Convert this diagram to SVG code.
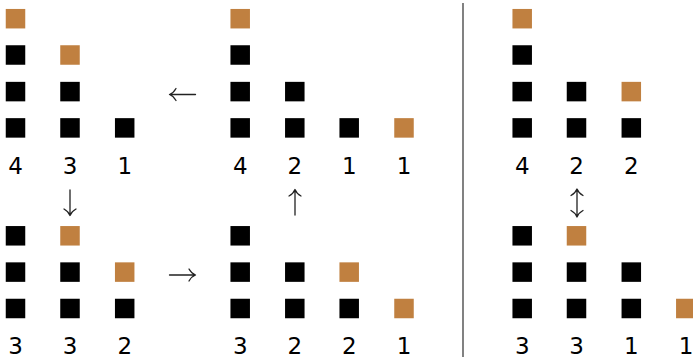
<svg xmlns="http://www.w3.org/2000/svg" width="693" height="357" viewBox="0 0 693 357">
<style>
.b{fill:#000}
.o{fill:#C08040}
.n{font-family:"DejaVu Sans",sans-serif;font-size:23px;fill:#000;text-anchor:middle}
.a{fill:none;stroke:#222;stroke-width:1.3;stroke-linecap:round;stroke-linejoin:round}
.sep{stroke:#1a1a1a;stroke-width:1.1}
</style>
<defs>
<rect id="sq" x="-9.75" y="-9.75" width="19.5" height="19.5"/>
</defs>
<rect width="693" height="357" fill="#fff"/>

<g id="state-431">
<use href="#sq" class="o" x="15.5" y="18.7"/>
<use href="#sq" class="b" x="15.5" y="55"/>
<use href="#sq" class="b" x="15.5" y="91.6"/>
<use href="#sq" class="b" x="15.5" y="127.9"/>
<use href="#sq" class="o" x="70" y="55"/>
<use href="#sq" class="b" x="70" y="91.6"/>
<use href="#sq" class="b" x="70" y="127.9"/>
<use href="#sq" class="b" x="124.7" y="127.9"/>
<text class="n" x="15.5" y="174">4</text>
<text class="n" x="70" y="174">3</text>
<text class="n" x="124.7" y="174">1</text>
</g>

<g id="state-4211">
<use href="#sq" class="o" x="240.2" y="18.7"/>
<use href="#sq" class="b" x="240.2" y="55"/>
<use href="#sq" class="b" x="240.2" y="91.6"/>
<use href="#sq" class="b" x="240.2" y="127.9"/>
<use href="#sq" class="b" x="294.8" y="91.6"/>
<use href="#sq" class="b" x="294.8" y="127.9"/>
<use href="#sq" class="b" x="349.2" y="127.9"/>
<use href="#sq" class="o" x="404" y="127.9"/>
<text class="n" x="240.2" y="174">4</text>
<text class="n" x="294.8" y="174">2</text>
<text class="n" x="349.2" y="174">1</text>
<text class="n" x="404" y="174">1</text>
</g>

<g id="state-422">
<use href="#sq" class="o" x="522.2" y="18.7"/>
<use href="#sq" class="b" x="522.2" y="55"/>
<use href="#sq" class="b" x="522.2" y="91.6"/>
<use href="#sq" class="b" x="522.2" y="127.9"/>
<use href="#sq" class="b" x="576.5" y="91.6"/>
<use href="#sq" class="b" x="576.5" y="127.9"/>
<use href="#sq" class="o" x="631.3" y="91.6"/>
<use href="#sq" class="b" x="631.3" y="127.9"/>
<text class="n" x="522.2" y="174">4</text>
<text class="n" x="576.5" y="174">2</text>
<text class="n" x="631.3" y="174">2</text>
</g>

<g id="state-332">
<use href="#sq" class="b" x="15.5" y="235.8"/>
<use href="#sq" class="b" x="15.5" y="272.1"/>
<use href="#sq" class="b" x="15.5" y="308.5"/>
<use href="#sq" class="o" x="70" y="235.8"/>
<use href="#sq" class="b" x="70" y="272.1"/>
<use href="#sq" class="b" x="70" y="308.5"/>
<use href="#sq" class="o" x="124.7" y="272.1"/>
<use href="#sq" class="b" x="124.7" y="308.5"/>
<text class="n" x="15.5" y="354.3">3</text>
<text class="n" x="70" y="354.3">3</text>
<text class="n" x="124.7" y="354.3">2</text>
</g>

<g id="state-3221">
<use href="#sq" class="b" x="240.2" y="235.8"/>
<use href="#sq" class="b" x="240.2" y="272.1"/>
<use href="#sq" class="b" x="240.2" y="308.5"/>
<use href="#sq" class="b" x="294.8" y="272.1"/>
<use href="#sq" class="b" x="294.8" y="308.5"/>
<use href="#sq" class="o" x="349.2" y="272.1"/>
<use href="#sq" class="b" x="349.2" y="308.5"/>
<use href="#sq" class="o" x="404" y="308.5"/>
<text class="n" x="240.2" y="354.3">3</text>
<text class="n" x="294.8" y="354.3">2</text>
<text class="n" x="349.2" y="354.3">2</text>
<text class="n" x="404" y="354.3">1</text>
</g>

<g id="state-3311">
<use href="#sq" class="b" x="522.2" y="235.8"/>
<use href="#sq" class="b" x="522.2" y="272.1"/>
<use href="#sq" class="b" x="522.2" y="308.5"/>
<use href="#sq" class="o" x="576.5" y="235.8"/>
<use href="#sq" class="b" x="576.5" y="272.1"/>
<use href="#sq" class="b" x="576.5" y="308.5"/>
<use href="#sq" class="b" x="631.3" y="272.1"/>
<use href="#sq" class="b" x="631.3" y="308.5"/>
<use href="#sq" class="o" x="685.8" y="308.5"/>
<text class="n" x="522.2" y="354.3">3</text>
<text class="n" x="576.5" y="354.3">3</text>
<text class="n" x="631.3" y="354.3">1</text>
<text class="n" x="686" y="354.3">1</text>
</g>

<g id="connectors">
<path class="a" d="M170,94.5 H195.5 M176,88.5 Q173.5,93 169.5,94.5 Q173.5,96 176,100.5"/>
<path class="a" d="M70,190 V215 M64,209 Q68.5,211.5 70,215.5 Q71.5,211.5 76,209"/>
<path class="a" d="M295,190 V215 M289,196 Q293.5,193.5 295,189.5 Q296.5,193.5 301,196"/>
<path class="a" d="M169.5,275 H195 M189,269 Q191.5,273.5 195.5,275 Q191.5,276.5 189,281"/>
<path class="a" d="M577,189.5 V216.5 M571,195.5 Q575.5,193 577,189 Q578.5,193 583,195.5 M571,210.5 Q575.5,213 577,217 Q578.5,213 583,210.5"/>
</g>

<line class="sep" x1="463" y1="3" x2="463" y2="357"/>
</svg>
